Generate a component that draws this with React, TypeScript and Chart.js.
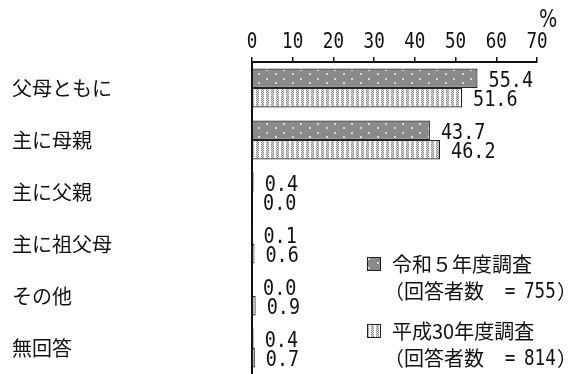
import React, { useEffect, useRef } from "react";
import { Chart, registerables } from "chart.js";

Chart.register(...registerables);

const categories = ["父母ともに", "主に母親", "主に父親", "主に祖父母", "その他", "無回答"];
const seriesR5 = [55.4, 43.7, 0.4, 0.1, 0.0, 0.4];
const seriesH30 = [51.6, 46.2, 0.0, 0.6, 0.9, 0.7];
const xTicks = [0, 10, 20, 30, 40, 50, 60, 70];
const legendTitles = ["令和５年度調査", "平成30年度調査"];
const legendCounts = [755, 814];
const countLabel = "回答者数";
const unitLabel = "%";

const NUM_FONT = "22px 'DejaVu Sans Mono'";

function makeDarkPattern(ctx: CanvasRenderingContext2D) {
  const c = document.createElement("canvas");
  c.width = 17;
  c.height = 9;
  const p = c.getContext("2d")!;
  p.fillStyle = "#8a8a8a";
  p.fillRect(0, 0, 17, 9);
  p.fillStyle = "#d8d8d8";
  p.fillRect(3, 1, 2, 2);
  p.fillRect(11, 6, 2, 2);
  return ctx.createPattern(c, "repeat")!;
}

function makeLightPattern(ctx: CanvasRenderingContext2D) {
  const c = document.createElement("canvas");
  c.width = 5;
  c.height = 4;
  const p = c.getContext("2d")!;
  p.fillStyle = "#ffffff";
  p.fillRect(0, 0, 5, 4);
  p.fillStyle = "#e0e0e0";
  p.fillRect(1, 0, 3, 4);
  p.fillStyle = "#8c8c8c";
  [[1, 0], [3, 0], [2, 1], [1, 2], [3, 2], [2, 3]].forEach(([x, y]) => p.fillRect(x, y, 1, 1));
  return ctx.createPattern(c, "repeat")!;
}

function drawCondensed(c: CanvasRenderingContext2D, text: string, x: number, y: number, sx: number, align: "left" | "center") {
  c.save();
  c.translate(x, y);
  c.scale(sx, 1);
  c.textAlign = align;
  c.fillText(text, 0, 0);
  c.restore();
}

export default function App() {
  const ref = useRef<HTMLCanvasElement>(null);

  useEffect(() => {
    const canvas = ref.current!;
    const ctx = canvas.getContext("2d")!;
    const darkPat = makeDarkPattern(ctx);
    const lightPat = makeLightPattern(ctx);

    const valueLabels = {
      id: "valueLabels",
      afterDatasetsDraw(chart: any) {
        const c = chart.ctx;
        c.save();
        c.font = NUM_FONT;
        c.fillStyle = "#111";
        c.textBaseline = "middle";
        chart.data.datasets.forEach((ds: any, di: number) => {
          const meta = chart.getDatasetMeta(di);
          meta.data.forEach((el: any, i: number) => {
            const v = ds.data[i] as number;
            drawCondensed(c, v.toFixed(1), el.x + 11, el.y + 3, 0.84, "left");
          });
        });
        c.restore();
      },
    };

    const extras = {
      id: "extras",
      afterDraw(chart: any) {
        const c = chart.ctx;
        const xs = chart.scales.x;
        c.save();
        c.fillStyle = "#111";
        // x tick labels
        c.font = NUM_FONT;
        c.textBaseline = "alphabetic";
        xTicks.forEach((v) => {
          drawCondensed(c, String(v), xs.getPixelForValue(v), 48, 0.8, "center");
        });
        // unit
        c.font = "24px 'DejaVu Sans'";
        c.textBaseline = "middle";
        drawCondensed(c, unitLabel, 539, 21, 0.8, "left");

        const drawItem = (pat: CanvasPattern, title: string, count: number, sy: number) => {
          c.fillStyle = pat;
          c.fillRect(367, sy, 14, 14);
          c.strokeStyle = "#222";
          c.lineWidth = 1;
          c.strokeRect(367.5, sy + 0.5, 13, 13);
          c.fillStyle = "#111";
          c.textBaseline = "middle";
          c.textAlign = "left";
          c.font = "20px 'Noto Sans CJK JP'";
          c.fillText(title, 392, sy + 7);
          const y2 = sy + 34;
          c.fillText("（" + countLabel, 384, y2);
          c.font = NUM_FONT;
          drawCondensed(c, "=", 510, y2 + 1, 0.8, "center");
          drawCondensed(c, String(count), 524, y2 + 1, 0.8, "left");
          c.font = "20px 'Noto Sans CJK JP'";
          c.fillText("）", 557, y2);
        };
        drawItem(darkPat, legendTitles[0], legendCounts[0], 257);
        drawItem(lightPat, legendTitles[1], legendCounts[1], 324);
        c.restore();
      },
    };

    const chart = new Chart(canvas, {
      type: "bar",
      data: {
        labels: categories,
        datasets: [
          {
            label: legendTitles[0],
            data: seriesR5,
            backgroundColor: darkPat,
            borderColor: "#222",
            borderWidth: 1.2,
            categoryPercentage: 0.75,
            barPercentage: 1.0,
          },
          {
            label: legendTitles[1],
            data: seriesH30,
            backgroundColor: lightPat,
            borderColor: "#222",
            borderWidth: 1.2,
            categoryPercentage: 0.75,
            barPercentage: 1.0,
          },
        ],
      },
      options: {
        indexAxis: "y",
        responsive: false,
        animation: false,
        layout: { padding: { left: 12, right: 40, top: 0, bottom: 0 } },
        plugins: {
          legend: { display: false },
          tooltip: { enabled: false },
        },
        scales: {
          x: {
            position: "top",
            min: 0,
            max: 70,
            afterBuildTicks(scale: any) {
              scale.ticks = xTicks.map((v) => ({ value: v }));
            },
            afterFit(scale: any) {
              scale.height = 62;
              scale.paddingLeft = 0;
              scale.paddingRight = 0;
            },
            ticks: { display: false },
            grid: {
              drawOnChartArea: false,
              drawTicks: true,
              tickLength: 5,
              color: "#111",
              lineWidth: 1.5,
            },
            border: { display: true, color: "#111", width: 2 },
          },
          y: {
            afterFit(scale: any) {
              scale.width = 240;
              scale.paddingTop = 0;
              scale.paddingBottom = 0;
            },
            ticks: {
              color: "#111",
              crossAlign: "far",
              font: { family: "'Noto Sans CJK JP'", size: 20 },
              padding: 0,
            },
            grid: { drawOnChartArea: false, drawTicks: false },
            border: { display: true, color: "#111", width: 2 },
          },
        },
      },
      plugins: [valueLabels, extras],
    } as any);

    return () => chart.destroy();
  }, []);

  return (
    <div style={{ position: "fixed", left: 0, top: 0, width: 577, height: 374, background: "#fff" }}>
      <canvas ref={ref} width={577} height={374} style={{ display: "block" }} />
    </div>
  );
}
